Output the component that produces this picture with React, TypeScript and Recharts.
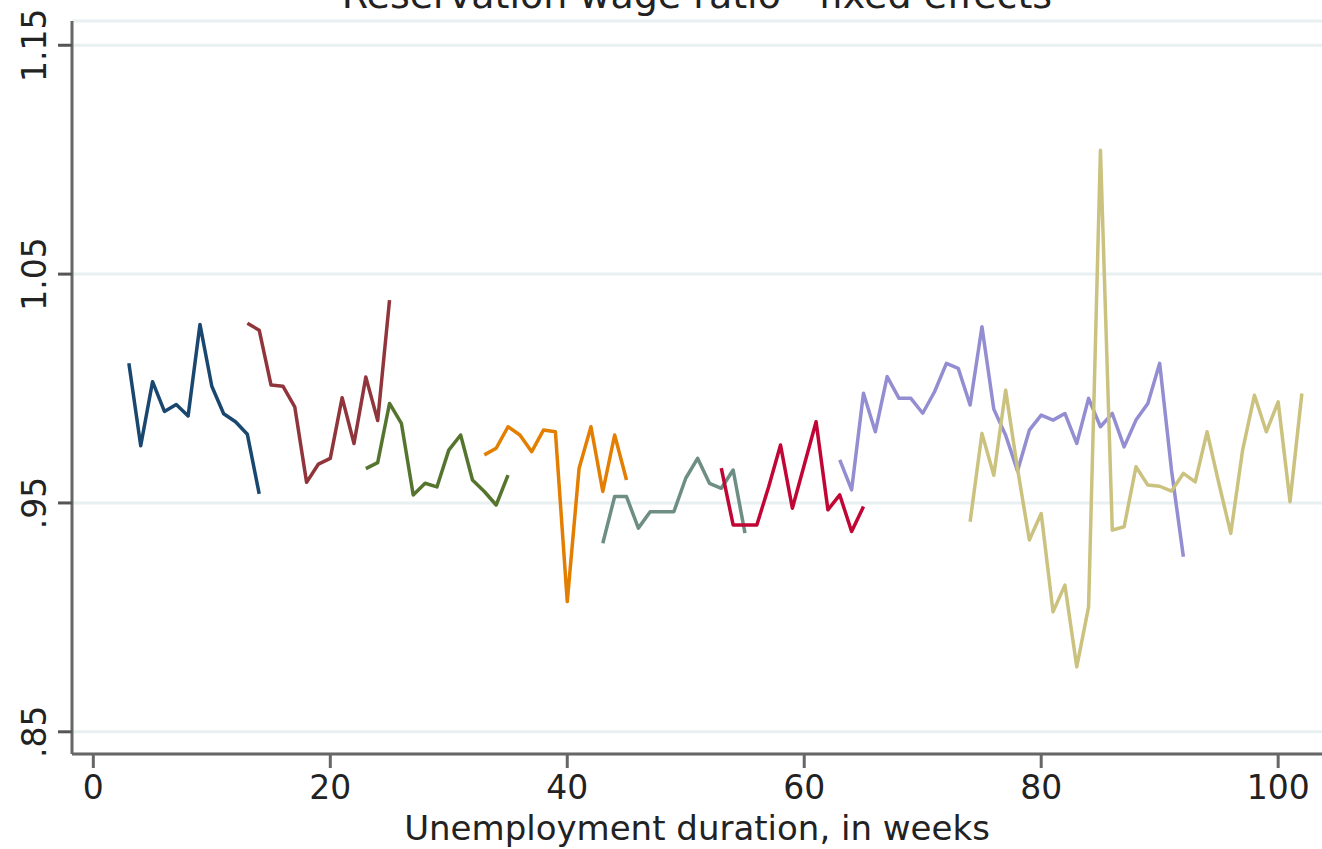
import React from "react";
import { LineChart, Line, XAxis, YAxis, CartesianGrid } from "recharts";

const chartTitle = "Reservation wage ratio - fixed effects";
const xTitle = "Unemployment duration, in weeks";
const xTicks = [0, 20, 40, 60, 80, 100];
const yTicks = [0.85, 0.95, 1.05, 1.15];
const yTickLabels: Record<string, string> = { "0.85": ".85", "0.95": ".95", "1.05": "1.05", "1.15": "1.15" };

const navyStart = 3;
const navyValues = [1.011, 0.975, 1.003, 0.99, 0.993, 0.988, 1.028, 1.001, 0.989, 0.9855, 0.98, 0.954];
const maroonStart = 13;
const maroonValues = [1.0285, 1.0255, 1.0015, 1.001, 0.992, 0.959, 0.967, 0.9695, 0.996, 0.976, 1.005, 0.986, 1.0386];
const greenStart = 23;
const greenValues = [0.965, 0.9676, 0.9935, 0.9848, 0.9535, 0.9586, 0.957, 0.9731, 0.9797, 0.96, 0.955, 0.9491, 0.9622];
const orangeStart = 33;
const orangeValues = [0.971, 0.9739, 0.9833, 0.9797, 0.9724, 0.9819, 0.9811, 0.9069, 0.9652, 0.9833, 0.955, 0.9797, 0.96];
const tealStart = 43;
const tealValues = [0.9324, 0.9528, 0.9528, 0.939, 0.9462, 0.9462, 0.9462, 0.9608, 0.9695, 0.9586, 0.9564, 0.9644, 0.9368];
const cranberryStart = 53;
const cranberryValues = [0.9652, 0.9404, 0.9404, 0.9404, 0.9571, 0.9753, 0.9477, 0.9666, 0.9855, 0.947, 0.9535, 0.9375, 0.9484];
const lavenderStart = 63;
const lavenderValues = [
  0.9688, 0.9557, 0.9979, 0.9811, 1.0052, 0.9957, 0.9957, 0.9892, 0.9986, 1.011, 1.0088, 0.9928, 1.027, 0.991, 0.9796,
  0.964, 0.9818, 0.9884, 0.9862, 0.9891, 0.976, 0.9957, 0.9833, 0.9891, 0.9745, 0.9862, 0.9935, 1.011, 0.9643, 0.9265,
];
const khakiStart = 74;
const khakiValues = [
  0.9418, 0.9804, 0.9621, 0.9993, 0.965, 0.9338, 0.9454, 0.9024, 0.9141, 0.8784, 0.9046, 1.1041, 0.9381, 0.9396, 0.9658,
  0.9578, 0.9573, 0.9552, 0.9629, 0.9592, 0.9811, 0.9585, 0.9367, 0.9731, 0.9971, 0.9811, 0.9942, 0.9505, 0.9978,
];

const seriesDefs = [
  { key: "navy", start: navyStart, values: navyValues, color: "#1a476f" },
  { key: "maroon", start: maroonStart, values: maroonValues, color: "#90353b" },
  { key: "green", start: greenStart, values: greenValues, color: "#55752f" },
  { key: "orange", start: orangeStart, values: orangeValues, color: "#e37e00" },
  { key: "teal", start: tealStart, values: tealValues, color: "#6e8e84" },
  { key: "cranberry", start: cranberryStart, values: cranberryValues, color: "#c10534" },
  { key: "lavender", start: lavenderStart, values: lavenderValues, color: "#938dd2" },
  { key: "khaki", start: khakiStart, values: khakiValues, color: "#cac27e" },
];

const minWeek = Math.min(...seriesDefs.map((s) => s.start));
const maxWeek = Math.max(...seriesDefs.map((s) => s.start + s.values.length - 1));
const rows: any[] = [];
for (let w = minWeek; w <= maxWeek; w++) {
  const row: any = { week: w };
  seriesDefs.forEach((s) => {
    const i = w - s.start;
    row[s.key] = i >= 0 && i < s.values.length ? s.values[i] : null;
  });
  rows.push(row);
}

const FONT = "DejaVu Sans";
const TEXT = "#222";

const XTick = (props: any) => {
  const { x, payload } = props;
  return (
    <text x={x} y={799} textAnchor="middle" fontFamily={FONT} fontSize={33} fill={TEXT}>
      {payload.value}
    </text>
  );
};

const YTick = (props: any) => {
  const { y, payload } = props;
  const key = Number(payload.value).toFixed(2);
  const bx = 46;
  return (
    <text
      x={bx}
      y={y}
      textAnchor="middle"
      fontFamily={FONT}
      fontSize={33}
      fill={TEXT}
      transform={`rotate(-90, ${bx}, ${y})`}
    >
      {yTickLabels[key] ?? key}
    </text>
  );
};

const XTitle = (props: any) => {
  const vb = props.viewBox || { x: 72, width: 1250 };
  return (
    <text
      x={vb.x + vb.width / 2}
      y={840}
      textAnchor="middle"
      fontFamily={FONT}
      fontSize={34}
      fill={TEXT}
    >
      {xTitle}
    </text>
  );
};

export default function App() {
  return (
    <div style={{ position: "absolute", left: 0, top: 0, width: 1322, height: 849, background: "#fff" }}>
      <LineChart width={1322} height={849} data={rows} margin={{ top: 21, right: 0, bottom: 0, left: 0 }}>
        <CartesianGrid vertical={false} stroke="#e8f0f2" strokeWidth={3} />
        <XAxis
          dataKey="week"
          type="number"
          domain={[-1.8, 103.7]}
          allowDataOverflow
          ticks={xTicks}
          height={95}
          tickSize={14}
          axisLine={{ stroke: "#666", strokeWidth: 3 }}
          tickLine={{ stroke: "#666", strokeWidth: 3 }}
          tick={<XTick />}
          interval={0}
          label={<XTitle />}
        />
        <YAxis
          type="number"
          domain={[0.8403, 1.1606]}
          allowDataOverflow
          ticks={yTicks}
          width={72}
          tickSize={14}
          axisLine={{ stroke: "#666", strokeWidth: 3 }}
          tickLine={{ stroke: "#555", strokeWidth: 3 }}
          tick={<YTick />}
          interval={0}
        />
        {seriesDefs.map((s) => (
          <Line
            key={s.key}
            dataKey={s.key}
            type="linear"
            stroke={s.color}
            strokeWidth={3.5}
            strokeLinejoin="round"
            dot={false}
            activeDot={false}
            connectNulls={false}
            isAnimationActive={false}
          />
        ))}
      </LineChart>
      <svg width={1322} height={40} style={{ position: "absolute", left: 0, top: 0, pointerEvents: "none", overflow: "visible" }}>
        <text x={697} y={8} textAnchor="middle" fontFamily={FONT} fontSize={38} fill={TEXT}>
          {chartTitle}
        </text>
      </svg>
    </div>
  );
}
